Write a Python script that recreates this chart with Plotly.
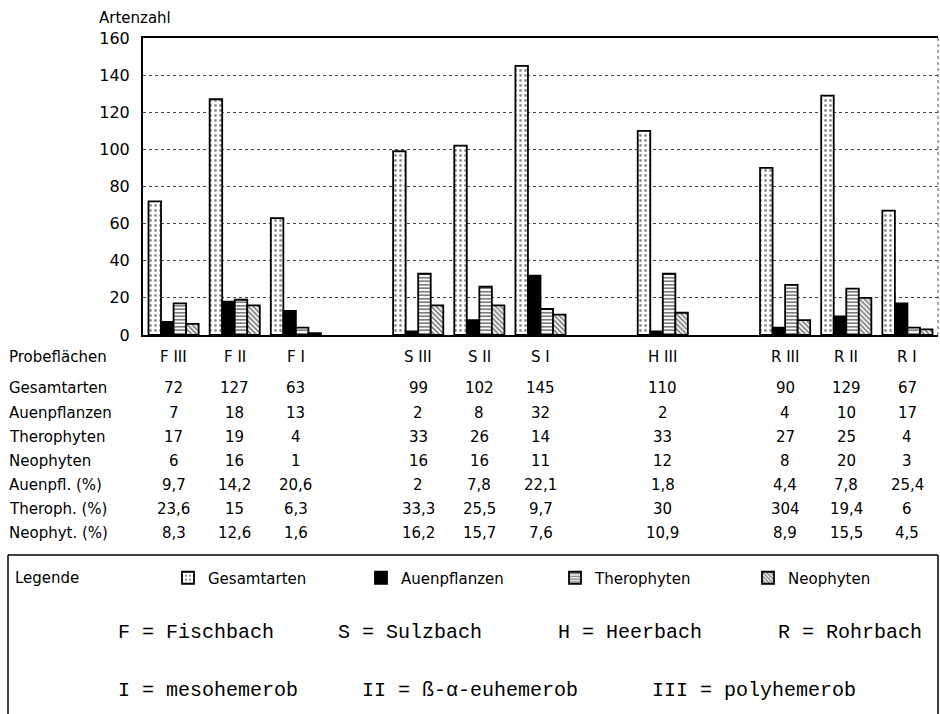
import plotly.graph_objects as go

# ---- data -------------------------------------------------------------
plots = ["F III", "F II", "F I", "S III", "S II", "S I", "H III", "R III", "R II", "R I"]
slots = [0, 1, 2, 4, 5, 6, 8, 10, 11, 12]   # empty slots separate the streams
gesamtarten = [72, 127, 63, 99, 102, 145, 110, 90, 129, 67]
auenpflanzen = [7, 18, 13, 2, 8, 32, 2, 4, 10, 17]
therophyten = [17, 19, 4, 33, 26, 14, 33, 27, 25, 4]
neophyten = [6, 16, 1, 16, 16, 11, 12, 8, 20, 3]
auen_pct = [9.7, 14.2, 20.6, 2, 7.8, 22.1, 1.8, 4.4, 7.8, 25.4]
thero_pct = [23.6, 15, 6.3, 33.3, 25.5, 9.7, 30, 304, 19.4, 6]
neo_pct = [8.3, 12.6, 1.6, 16.2, 15.7, 7.6, 10.9, 8.9, 15.5, 4.5]
y_ticks = [0, 20, 40, 60, 80, 100, 120, 140, 160]

# ---- geometry helpers ---------------------------------------------------
W, H = 940, 714
L, R, T, B = 143, 2, 38, 379
PW = W - L - R
PH = H - T - B


def py(y):
    return (H - B - y) / PH


def px(x):
    return (x - L) / PW


SANS = "DejaVu Sans"
MONO = "Liberation Mono"
FS = 15

fig = go.Figure()
fig.add_bar(x=slots, y=gesamtarten, name="Gesamtarten", legend="legend",
            marker=dict(color="white", line=dict(color="black", width=1.8),
                        pattern=dict(shape=".", fgcolor="#222", bgcolor="white", size=5, solidity=0.25)))
fig.add_bar(x=slots, y=auenpflanzen, name="Auenpflanzen", legend="legend2",
            marker=dict(color="black", line=dict(color="black", width=1.8)))
fig.add_bar(x=slots, y=therophyten, name="Therophyten", legend="legend3",
            marker=dict(color="white", line=dict(color="black", width=1.8),
                        pattern=dict(shape="-", fgcolor="black", bgcolor="white", size=3.5, solidity=0.5)))
fig.add_bar(x=slots, y=neophyten, name="Neophyten", legend="legend4",
            marker=dict(color="white", line=dict(color="black", width=1.8),
                        pattern=dict(shape="\\", fgcolor="black", bgcolor="white", size=3.5, solidity=0.5)))

ann = []
# axis title
ann.append(dict(text="Artenzahl", x=px(97), y=py(18), xref="paper", yref="paper",
                xanchor="left", yanchor="middle", showarrow=False,
                font=dict(family=SANS, size=FS, color="black")))

# table
rows = [
    ("Gesamtarten", gesamtarten, 388),
    ("Auenpflanzen", auenpflanzen, 413),
    ("Therophyten", therophyten, 437),
    ("Neophyten", neophyten, 461),
    ("Auenpfl. (%)", auen_pct, 485),
    ("Theroph. (%)", thero_pct, 509),
    ("Neophyt. (%)", neo_pct, 533),
]


def fmt(v):
    return format(v, "g").replace(".", ",")


ann.append(dict(text="Probeflächen", x=px(7), y=py(357), xref="paper", yref="paper",
                xanchor="left", yanchor="middle", showarrow=False,
                font=dict(family=SANS, size=FS, color="black")))
for s, lab in zip(slots, plots):
    ann.append(dict(text=lab, x=s, y=py(357), xref="x", yref="paper",
                    xanchor="center", yanchor="middle", showarrow=False,
                    font=dict(family=SANS, size=FS, color="black")))
for name, vals, ypix in rows:
    ann.append(dict(text=name, x=px(7), y=py(ypix), xref="paper", yref="paper",
                    xanchor="left", yanchor="middle", showarrow=False,
                    font=dict(family=SANS, size=FS, color="black")))
    for s, v in zip(slots, vals):
        ann.append(dict(text=fmt(v), x=s, y=py(ypix), xref="x", yref="paper",
                        xanchor="center", yanchor="middle", showarrow=False,
                        font=dict(family=SANS, size=FS, color="black")))

# legend box texts
ann.append(dict(text="Legende", x=px(13), y=py(578), xref="paper", yref="paper",
                xanchor="left", yanchor="middle", showarrow=False,
                font=dict(family=SANS, size=FS, color="black")))
mono_items = [
    ("F = Fischbach", 116, 632), ("S = Sulzbach", 336, 632),
    ("H = Heerbach", 556, 632), ("R = Rohrbach", 776, 632),
    ("I = mesohemerob", 116, 690), ("II = ß-α-euhemerob", 360, 690),
    ("III = polyhemerob", 650, 690),
]
for t, xx, yy in mono_items:
    ann.append(dict(text=t, x=px(xx), y=py(yy), xref="paper", yref="paper",
                    xanchor="left", yanchor="middle", showarrow=False,
                    font=dict(family=MONO, size=20, color="black")))

shapes = [
    # legend frame
    dict(type="line", xref="paper", yref="paper", x0=px(8), x1=px(938), y0=py(555), y1=py(555),
         line=dict(color="black", width=1.5)),
    dict(type="line", xref="paper", yref="paper", x0=px(8), x1=px(8), y0=py(555), y1=py(720),
         line=dict(color="black", width=1.5)),
    dict(type="line", xref="paper", yref="paper", x0=px(938), x1=px(938), y0=py(555), y1=py(720),
         line=dict(color="black", width=1.5)),
    # right frame edge (dotted)
    dict(type="line", xref="paper", yref="paper", x0=1, x1=1, y0=0, y1=1,
         line=dict(color="#555", width=1, dash="dot")),
]


def leg(xpix):
    return dict(orientation="h", x=px(xpix), y=py(578), xanchor="left", yanchor="middle",
                font=dict(family=SANS, size=FS, color="black"), bgcolor="rgba(0,0,0,0)",
                itemwidth=30)


fig.update_layout(
    width=W, height=H,
    margin=dict(l=L, r=R, t=T, b=B, pad=0),
    paper_bgcolor="white", plot_bgcolor="white",
    barmode="group", bargap=0.18, bargroupgap=0,
    font=dict(family=SANS, size=FS, color="black"),
    showlegend=True,
    legend=leg(168), legend2=leg(361), legend3=leg(555), legend4=leg(748),
    annotations=ann,
    shapes=shapes,
    xaxis=dict(range=[-0.5, 12.5], showticklabels=False, ticks="", showgrid=False,
               showline=True, linecolor="black", linewidth=2, mirror=True, zeroline=False,
               fixedrange=True),
    yaxis=dict(range=[0, 160], tickvals=y_ticks, showgrid=True, gridcolor="#444",
               griddash="dot", gridwidth=1, showline=True, linecolor="black", linewidth=2,
               ticks="", ticklabelstandoff=8, zeroline=False,
               tickfont=dict(family=SANS, size=16, color="black")),
)

fig.write_html("out.html", config={"displayModeBar": False},
               post_script="document.body.style.margin='0';document.body.style.overflow='hidden';")
